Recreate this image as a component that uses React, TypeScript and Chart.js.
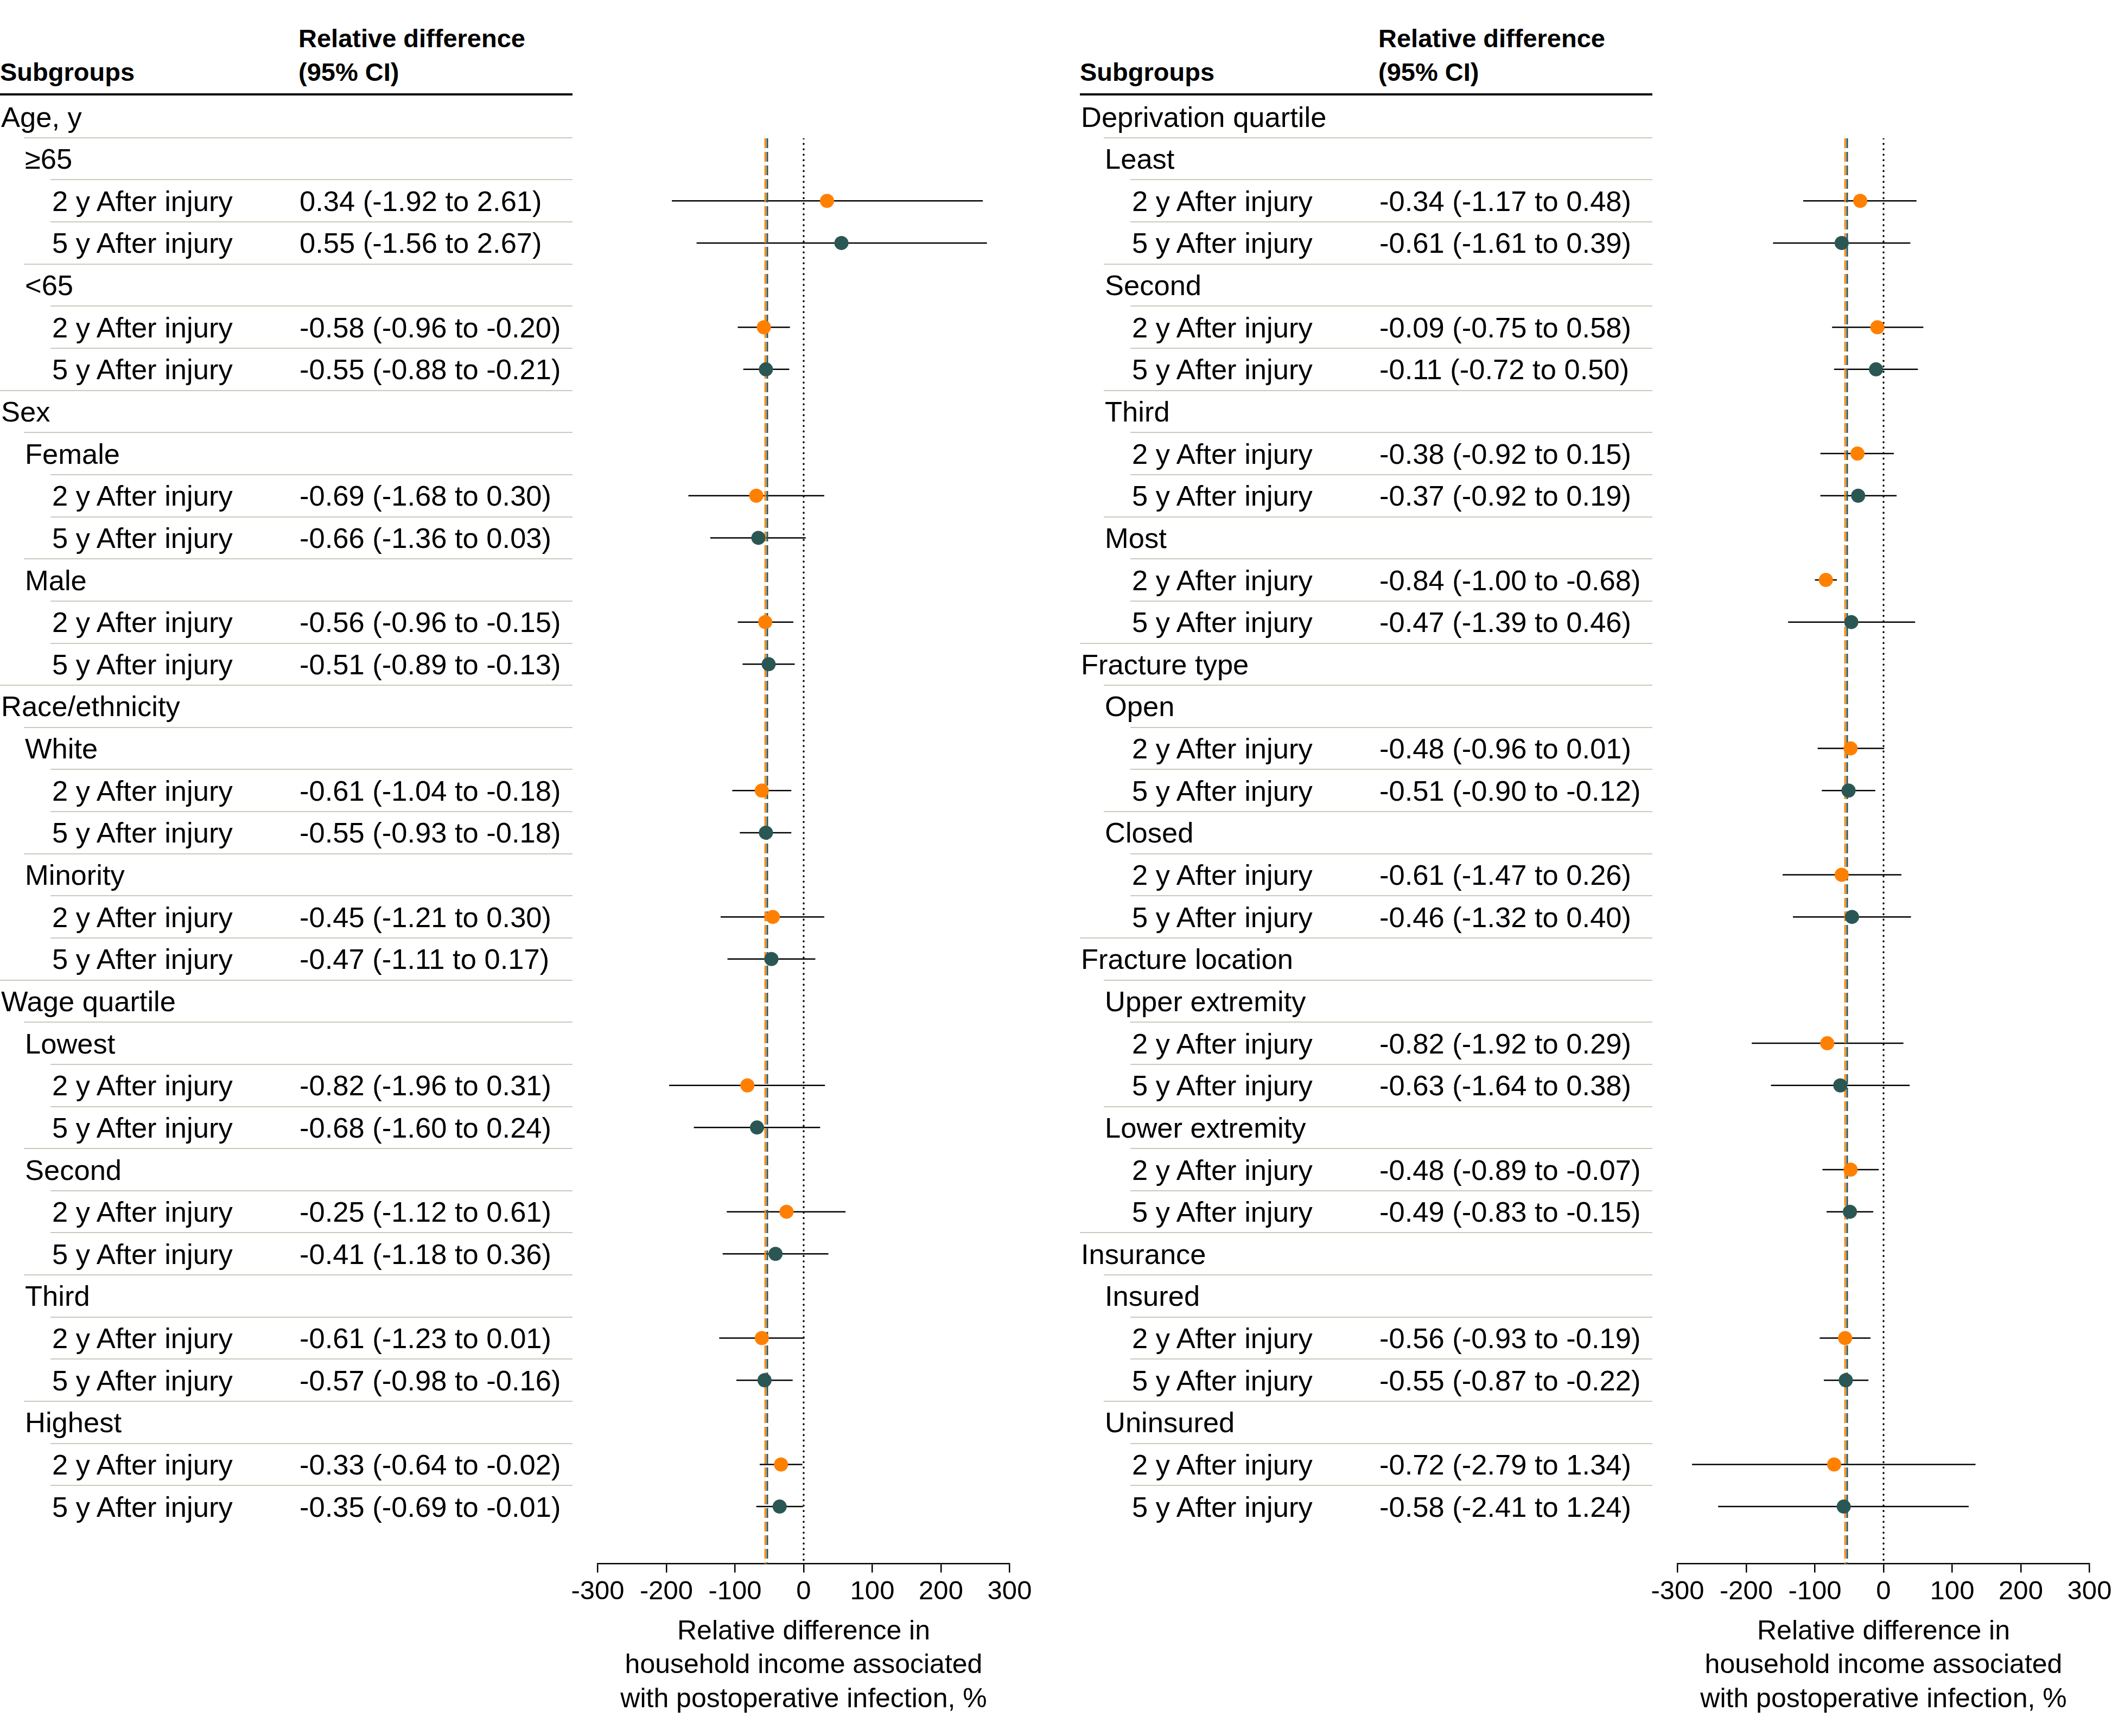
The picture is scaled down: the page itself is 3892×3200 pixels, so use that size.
import React, { useEffect, useRef } from "react";
import { Chart, registerables } from "chart.js";

Chart.register(...registerables);

// ---------------- DATA ----------------
const yearLabels = ["2 y After injury", "5 y After injury"];

const leftCategories = ["Age, y", "Sex", "Race/ethnicity", "Wage quartile"];
const leftSubgroups = [
  ["≥65", "<65"],
  ["Female", "Male"],
  ["White", "Minority"],
  ["Lowest", "Second", "Third", "Highest"],
];
const left2yEst = [0.34, -0.58, -0.69, -0.56, -0.61, -0.45, -0.82, -0.25, -0.61, -0.33];
const left2yLow = [-1.92, -0.96, -1.68, -0.96, -1.04, -1.21, -1.96, -1.12, -1.23, -0.64];
const left2yHigh = [2.61, -0.2, 0.3, -0.15, -0.18, 0.3, 0.31, 0.61, 0.01, -0.02];
const left5yEst = [0.55, -0.55, -0.66, -0.51, -0.55, -0.47, -0.68, -0.41, -0.57, -0.35];
const left5yLow = [-1.56, -0.88, -1.36, -0.89, -0.93, -1.11, -1.6, -1.18, -0.98, -0.69];
const left5yHigh = [2.67, -0.21, 0.03, -0.13, -0.18, 0.17, 0.24, 0.36, -0.16, -0.01];

const rightCategories = ["Deprivation quartile", "Fracture type", "Fracture location", "Insurance"];
const rightSubgroups = [
  ["Least", "Second", "Third", "Most"],
  ["Open", "Closed"],
  ["Upper extremity", "Lower extremity"],
  ["Insured", "Uninsured"],
];
const right2yEst = [-0.34, -0.09, -0.38, -0.84, -0.48, -0.61, -0.82, -0.48, -0.56, -0.72];
const right2yLow = [-1.17, -0.75, -0.92, -1.0, -0.96, -1.47, -1.92, -0.89, -0.93, -2.79];
const right2yHigh = [0.48, 0.58, 0.15, -0.68, 0.01, 0.26, 0.29, -0.07, -0.19, 1.34];
const right5yEst = [-0.61, -0.11, -0.37, -0.47, -0.51, -0.46, -0.63, -0.49, -0.55, -0.58];
const right5yLow = [-1.61, -0.72, -0.92, -1.39, -0.9, -1.32, -1.64, -0.83, -0.87, -2.41];
const right5yHigh = [0.39, 0.5, 0.19, 0.46, -0.12, 0.4, 0.38, -0.15, -0.22, 1.24];

// pooled estimates (dashed reference lines)
const pooled2y = -0.56;
const pooled5y = -0.53;

const xTicks = [-300, -200, -100, 0, 100, 200, 300];
const axisTitle = ["Relative difference in", "household income associated", "with postoperative infection, %"];
const headerValue = ["Relative difference", "(95% CI)"];
const headerSubgroups = "Subgroups";

// ---------------- LAYOUT / STYLE ----------------
const FONT = "'Liberation Sans', Arial, sans-serif";
const W = 3892;
const H = 3200;
const PANEL_X = [0, 1990];
const ROW0 = 215;
const ROW_H = 77.64;
const PLOT_TOP = 255;
const PLOT_BOTTOM = 2882.7;
const AXIS_LEFT = 1101.5;
const AXIS_RIGHT = 1860.5;
const CANVAS_X = 1020;
const CANVAS_W = 900;
const TABLE_W = 1055;
const LEVEL_X = [2, 46, 96];
const SEP_X = [0, 44, 93];
const VALUE_X = 552;
const ROW_FONT = 52.5;
const HEAD_FONT = 47;
const ORANGE = "#FF8000";
const GREEN = "#2A5754";
const SEP_COLOR = "#c8cbbd";

type Row = { label: string; level: number; est?: number; lo?: number; hi?: number; series?: number };

function buildRows(
  categories: string[],
  subgroups: string[][],
  e2: number[], l2: number[], h2: number[],
  e5: number[], l5: number[], h5: number[]
): Row[] {
  const rows: Row[] = [];
  let k = 0;
  categories.forEach((c, ci) => {
    rows.push({ label: c, level: 0 });
    subgroups[ci].forEach((s) => {
      rows.push({ label: s, level: 1 });
      rows.push({ label: yearLabels[0], level: 2, est: e2[k], lo: l2[k], hi: h2[k], series: 0 });
      rows.push({ label: yearLabels[1], level: 2, est: e5[k], lo: l5[k], hi: h5[k], series: 1 });
      k++;
    });
  });
  return rows;
}

const leftRows = buildRows(leftCategories, leftSubgroups, left2yEst, left2yLow, left2yHigh, left5yEst, left5yLow, left5yHigh);
const rightRows = buildRows(rightCategories, rightSubgroups, right2yEst, right2yLow, right2yHigh, right5yEst, right5yLow, right5yHigh);

const fmt = (v: number) => v.toFixed(2);

function rowCenter(i: number) {
  return ROW0 + ROW_H * i;
}

function Text({ x, cy, size, bold, children }: any) {
  const lh = Math.round(size * 1.2);
  return (
    <div
      style={{
        position: "absolute",
        left: x,
        top: cy - lh / 2,
        height: lh,
        lineHeight: `${lh}px`,
        fontSize: size,
        fontFamily: FONT,
        fontWeight: bold ? 700 : 400,
        color: "#000",
        whiteSpace: "nowrap",
      }}
    >
      {children}
    </div>
  );
}

function Table({ rows, left }: { rows: Row[]; left: number }) {
  const items: any[] = [];
  items.push(<Text key="h1" x={left + VALUE_X - 2} cy={71} size={HEAD_FONT} bold>{headerValue[0]}</Text>);
  items.push(<Text key="h2" x={left + VALUE_X - 2} cy={133} size={HEAD_FONT} bold>{headerValue[1]}</Text>);
  items.push(<Text key="h3" x={left} cy={133} size={HEAD_FONT} bold>{headerSubgroups}</Text>);
  items.push(
    <div key="rule" style={{ position: "absolute", left: left, top: 171.7, width: TABLE_W, height: 4, background: "#000" }} />
  );
  rows.forEach((r, i) => {
    const cy = rowCenter(i);
    items.push(<Text key={"l" + i} x={left + LEVEL_X[r.level]} cy={cy} size={ROW_FONT}>{r.label}</Text>);
    if (r.est !== undefined) {
      items.push(
        <Text key={"v" + i} x={left + VALUE_X} cy={cy} size={ROW_FONT}>
          {`${fmt(r.est)} (${fmt(r.lo as number)} to ${fmt(r.hi as number)})`}
        </Text>
      );
    }
    if (i < rows.length - 1) {
      const sx = SEP_X[rows[i + 1].level];
      items.push(
        <div
          key={"s" + i}
          style={{
            position: "absolute",
            left: left + sx,
            top: rowCenter(i + 0.5) - 1,
            width: TABLE_W - sx,
            height: 2,
            background: SEP_COLOR,
          }}
        />
      );
    }
  });
  return <>{items}</>;
}

function ForestChart({ rows, left }: { rows: Row[]; left: number }) {
  const ref = useRef<HTMLCanvasElement>(null);
  useEffect(() => {
    if (!ref.current) return;
    const yMin = (PLOT_TOP - ROW0) / ROW_H;
    const yMax = (PLOT_BOTTOM - ROW0) / ROW_H;
    const pts2: any[] = [];
    const pts5: any[] = [];
    const ciSets: any[] = [];
    rows.forEach((r, i) => {
      if (r.est === undefined) return;
      (r.series === 0 ? pts2 : pts5).push({ x: r.est * 100, y: i });
      ciSets.push({
        data: [
          { x: (r.lo as number) * 100, y: i },
          { x: (r.hi as number) * 100, y: i },
        ],
        showLine: true,
        borderColor: "#000",
        borderWidth: 2.5,
        pointRadius: 0,
        pointHoverRadius: 0,
        order: 3,
      });
    });
    const vline = (x: number, color: string, dash: number[], width: number, cap: string) => ({
      data: [
        { x, y: yMin },
        { x, y: yMax },
      ],
      showLine: true,
      borderColor: color,
      borderWidth: width,
      borderDash: dash,
      borderCapStyle: cap,
      pointRadius: 0,
      pointHoverRadius: 0,
      order: 2,
    });
    const chart = new Chart(ref.current, {
      type: "scatter",
      data: {
        datasets: [
          {
            data: pts2,
            backgroundColor: ORANGE,
            pointBackgroundColor: ORANGE,
            pointBorderWidth: 0,
            pointRadius: 13,
            pointHoverRadius: 13,
            order: 0,
          },
          {
            data: pts5,
            backgroundColor: GREEN,
            pointBackgroundColor: GREEN,
            pointBorderWidth: 0,
            pointRadius: 13,
            pointHoverRadius: 13,
            order: 0,
          },
          vline(0, "#000", [0.5, 9.5], 3.4, "round"),
          vline(pooled2y * 100, ORANGE, [18, 7], 3, "butt"),
          vline(pooled5y * 100, GREEN, [18, 7], 3, "butt"),
          ...ciSets,
        ] as any,
      },
      options: {
        animation: false,
        responsive: false,
        devicePixelRatio: 1,
        events: [],
        layout: {
          padding: {
            left: AXIS_LEFT - CANVAS_X,
            right: CANVAS_X + CANVAS_W - AXIS_RIGHT,
            top: PLOT_TOP,
            bottom: 0,
          },
        },
        plugins: { legend: { display: false }, tooltip: { enabled: false } },
        scales: {
          x: {
            type: "linear",
            position: "bottom",
            min: xTicks[0],
            max: xTicks[xTicks.length - 1],
            afterBuildTicks: (s: any) => {
              s.ticks = xTicks.map((v) => ({ value: v }));
            },
            afterFit: (s: any) => {
              s.height = H - PLOT_BOTTOM;
            },
            grid: {
              drawOnChartArea: false,
              drawTicks: true,
              tickLength: 16,
              tickWidth: 2.5,
              tickColor: "#000",
              color: "#000",
              lineWidth: 2.5,
            },
            border: { display: true, color: "#000", width: 2.5 },
            ticks: {
              color: "#000",
              font: { family: FONT, size: 49 },
              padding: 6,
              maxRotation: 0,
              autoSkip: false,
            },
            title: {
              display: true,
              text: axisTitle,
              color: "#000",
              font: { family: FONT, size: 50, lineHeight: 62.5 / 50 },
              padding: { top: 0, bottom: 36 },
            },
          } as any,
          y: { type: "linear", display: false, reverse: true, min: yMin, max: yMax },
        },
      } as any,
    });
    return () => chart.destroy();
  }, [rows]);
  return (
    <canvas
      ref={ref}
      width={CANVAS_W}
      height={H}
      style={{ position: "absolute", left: left + CANVAS_X, top: 0, width: CANVAS_W, height: H }}
    />
  );
}

export default function App() {
  return (
    <div
      style={{
        position: "absolute",
        left: 0,
        top: 0,
        width: W,
        height: H,
        background: "#fff",
        overflow: "hidden",
      }}
    >
      <Table rows={leftRows} left={PANEL_X[0]} />
      <ForestChart rows={leftRows} left={PANEL_X[0]} />
      <Table rows={rightRows} left={PANEL_X[1]} />
      <ForestChart rows={rightRows} left={PANEL_X[1]} />
    </div>
  );
}
